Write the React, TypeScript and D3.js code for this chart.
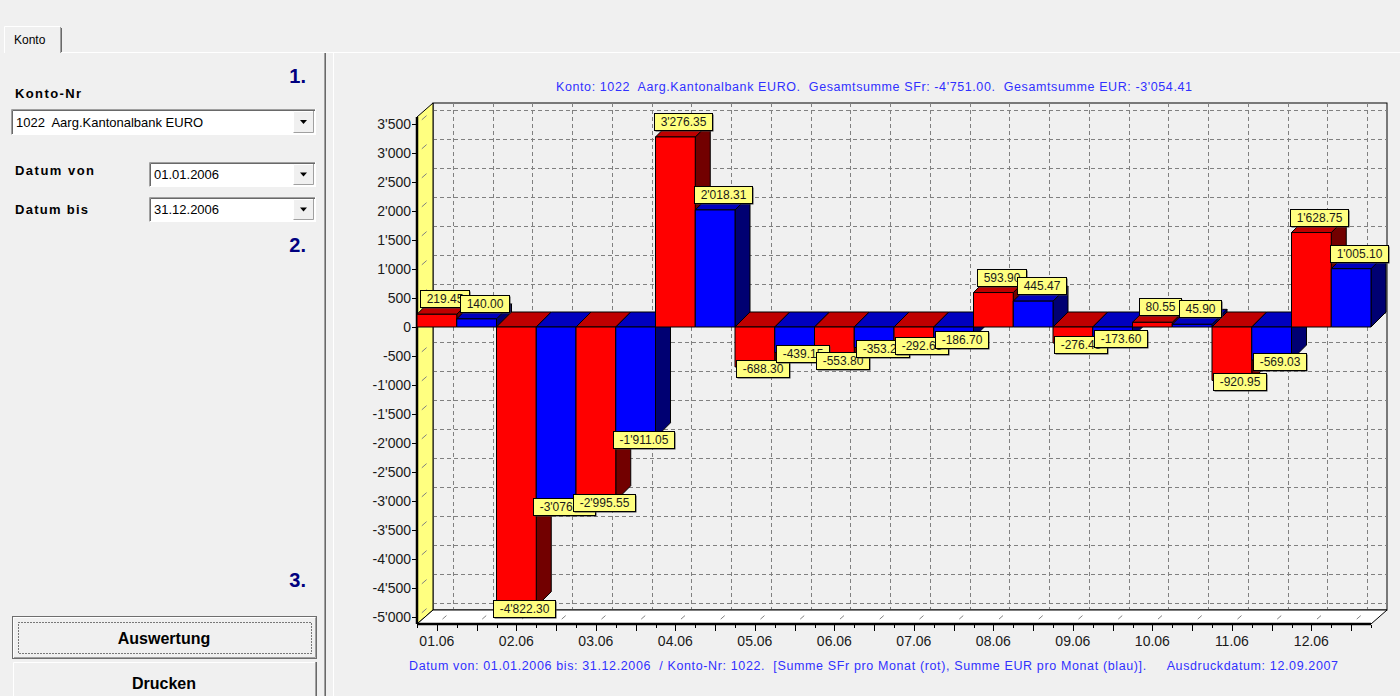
import React from 'react';
import * as d3 from 'd3';

const months = ['01.06', '02.06', '03.06', '04.06', '05.06', '06.06', '07.06', '08.06', '09.06', '10.06', '11.06', '12.06'];
const sfrValues = [219.45, -4822.3, -2995.55, 3276.35, -688.3, -553.8, -292.65, 593.9, -276.45, 80.55, -920.95, 1628.75];
const eurValues = [140.0, -3076.41, -1911.05, 2018.31, -439.15, -353.25, -186.7, 445.47, -173.6, 45.9, -569.03, 1005.1];
const yTickValues = [-5000, -4500, -4000, -3500, -3000, -2500, -2000, -1500, -1000, -500, 0, 500, 1000, 1500, 2000, 2500, 3000, 3500];

const titleText = "Konto: 1022  Aarg.Kantonalbank EURO.  Gesamtsumme SFr: -4'751.00.  Gesamtsumme EUR: -3'054.41";
const footerText = "Datum von: 01.01.2006 bis: 31.12.2006  / Konto-Nr: 1022.  [Summe SFr pro Monat (rot), Summe EUR pro Monat (blau)].     Ausdruckdatum: 12.09.2007";

const locale = d3.formatLocale({ decimal: '.', thousands: "'", grouping: [3], currency: ['', ''], minus: '-' });
const fmtTick = locale.format(',.0f');
const fmtVal = locale.format(',.2f');

const FONT = "'Liberation Sans', Arial, sans-serif";
const PRE: React.CSSProperties = { whiteSpace: 'pre' };

// layout
const X0 = 417, X1 = 1371;
const FRONT_TOP = 117, FRONT_BOTTOM = 624;
const WDX = 16, WDY = -14; // wall depth
const BDX = 15, BDY = -15; // bar depth

const x = d3.scaleBand<string>().domain(months).range([X0, X1]).paddingInner(0).paddingOuter(0);
const y = d3.scaleLinear().domain([-5000, 3500]).range([617, 124]);

let measureCtx: CanvasRenderingContext2D | null = null;
function textWidth(s: string, font: string) {
  if (!measureCtx) {
    const c = document.createElement('canvas');
    measureCtx = c.getContext('2d');
  }
  if (!measureCtx) return s.length * 6.5;
  measureCtx.font = font;
  return measureCtx.measureText(s).width;
}

const pts = (arr: number[][]) => arr.map((p) => p.join(',')).join(' ');

function Combo({ x0, y0, w, h, text }: { x0: number; y0: number; w: number; h: number; text: string }) {
  return (
    <g>
      <rect x={x0} y={y0} width={w} height={h} fill="#ffffff" />
      <path d={`M${x0 + 0.5},${y0 + h} V${y0 + 0.5} H${x0 + w}`} stroke="#a0a0a0" fill="none" />
      <path d={`M${x0 + 1.5},${y0 + h - 1} V${y0 + 1.5} H${x0 + w - 1}`} stroke="#696969" fill="none" />
      <path d={`M${x0 + 0.5},${y0 + h - 0.5} H${x0 + w - 0.5} V${y0}`} stroke="#ffffff" fill="none" />
      <text x={x0 + 5} y={y0 + h / 2} dy="0.35em" fontFamily={FONT} fontSize={13} fill="#000" style={PRE}>{text}</text>
      <rect x={x0 + w - 23} y={y0 + 2} width={21} height={h - 4} fill="#f0f0f0" />
      <path d={`M${x0 + w - 22.5},${y0 + h - 2} V${y0 + 2.5} H${x0 + w - 2}`} stroke="#ffffff" fill="none" />
      <path d={`M${x0 + w - 22.5},${y0 + h - 2.5} H${x0 + w - 2.5} V${y0 + 2}`} stroke="#a0a0a0" fill="none" />
      <path d={`M${x0 + w - 16},${y0 + h / 2 - 2} h7 l-3.5,4 z`} fill="#000" />
    </g>
  );
}

export default function App() {
  const bw = x.bandwidth();
  const halfW = bw / 2;
  const y0 = y(0);

  type Bar = { x: number; w: number; v: number; front: string; top: string; side: string };
  const bars: Bar[] = [];
  months.forEach((m, i) => {
    bars.push({ x: x(m)!, w: halfW, v: sfrValues[i], front: '#ff0000', top: '#bf0000', side: '#720000' });
    bars.push({ x: x(m)! + halfW, w: halfW, v: eurValues[i], front: '#0000ff', top: '#0000bf', side: '#000072' });
  });

  const labelPos = months.map((m) => x(m)! + bw / 4);
  const gridX: number[] = [];
  months.forEach((m) => {
    gridX.push(x(m)! + bw / 4);
    gridX.push(x(m)! + (3 * bw) / 4);
  });

  const floorTicks = d3.range(0, 49).map((j) => ({ x: X0 + (j * bw) / 4, major: j % 2 === 1 }));

  const labelFont = `12px ${FONT}`;

  return (
    <svg width={1400} height={696} style={{ position: 'absolute', left: 0, top: 0, background: '#f0f0f0' }}>
      <rect x={0} y={0} width={1400} height={696} fill="#f0f0f0" />

      {/* tab */}
      <path d="M4.5,53 V26.5 H60" stroke="#ffffff" fill="none" />
      <path d="M60.5,27 V53" stroke="#a0a0a0" fill="none" />
      <path d="M61.5,28 V52" stroke="#696969" fill="none" />
      <text x={14} y={40} dy="0.35em" fontFamily={FONT} fontSize={12} fill="#000">Konto</text>
      <path d="M62,52.5 H1400" stroke="#ffffff" />

      {/* left panel separator */}
      <path d="M324.5,53 V696" stroke="#a0a0a0" />
      <path d="M325.5,53 V696" stroke="#696969" />
      <path d="M333.5,53 V696" stroke="#ffffff" />

      {/* left panel */}
      <text x={306} y={76} textAnchor="end" dy="0.35em" fontFamily={FONT} fontSize={20} fontWeight="bold" fill="#00007f">1.</text>
      <text x={306} y={245} textAnchor="end" dy="0.35em" fontFamily={FONT} fontSize={20} fontWeight="bold" fill="#00007f">2.</text>
      <text x={306} y={580} textAnchor="end" dy="0.35em" fontFamily={FONT} fontSize={20} fontWeight="bold" fill="#00007f">3.</text>

      <text x={15} y={93} dy="0.35em" fontFamily={FONT} fontSize={13} fontWeight="bold" fill="#000" textLength={66} lengthAdjust="spacing">Konto-Nr</text>
      <Combo x0={11} y0={109} w={305} h={26} text="1022  Aarg.Kantonalbank EURO" />

      <text x={15} y={170} dy="0.35em" fontFamily={FONT} fontSize={13} fontWeight="bold" fill="#000" textLength={79} lengthAdjust="spacing" style={PRE}>Datum von</text>
      <Combo x0={149} y0={162} w={167} h={25} text="01.01.2006" />
      <text x={15} y={209} dy="0.35em" fontFamily={FONT} fontSize={13} fontWeight="bold" fill="#000" textLength={73} lengthAdjust="spacing" style={PRE}>Datum bis</text>
      <Combo x0={149} y0={197} w={167} h={25} text="31.12.2006" />

      {/* Auswertung button */}
      <rect x={12.5} y={616.5} width={304} height={42} fill="#f0f0f0" stroke="#6e6e6e" />
      <path d="M13.5,657.5 V617.5 H316" stroke="#ffffff" fill="none" />
      <path d="M14,657.5 H315.5 V617.5" stroke="#a0a0a0" fill="none" />
      <rect x={18.5} y={622.5} width={293} height={31} fill="none" stroke="#000" strokeDasharray="1 2" />
      <text x={164} y={638} dy="0.35em" textAnchor="middle" fontFamily={FONT} fontSize={16} fontWeight="bold" fill="#000">Auswertung</text>

      {/* Drucken button */}
      <rect x={13} y={662} width={304} height={40} fill="#f0f0f0" />
      <path d="M13.5,700 V662.5 H316" stroke="#ffffff" fill="none" />
      <path d="M315.5,662 V700" stroke="#a0a0a0" fill="none" />
      <path d="M316.5,662 V700" stroke="#696969" fill="none" />
      <text x={164} y={683} dy="0.35em" textAnchor="middle" fontFamily={FONT} fontSize={16} fontWeight="bold" fill="#000">Drucken</text>

      {/* chart title */}
      <text x={874} y={87} dy="0.35em" textAnchor="middle" fontFamily={FONT} fontSize={12.5} fill="#3030ff" textLength={636} lengthAdjust="spacing" style={PRE}>{titleText}</text>

      {/* back wall */}
      <rect x={X0 + WDX} y={FRONT_TOP + WDY} width={X1 - X0} height={FRONT_BOTTOM - FRONT_TOP} fill="#f0f0f0" stroke="#000" strokeWidth={1} />

      {/* grid on back wall */}
      {yTickValues.map((v) => (
        <line key={'gh' + v} x1={X0 + WDX} x2={X1 + WDX} y1={Math.round(y(v) + WDY) + 0.5} y2={Math.round(y(v) + WDY) + 0.5} stroke="#808080" strokeDasharray="4 3" />
      ))}
      {gridX.map((gx, i) => (
        <line key={'gv' + i} x1={Math.round(gx + WDX) + 0.5} x2={Math.round(gx + WDX) + 0.5} y1={FRONT_TOP + WDY} y2={FRONT_BOTTOM + WDY} stroke="#808080" strokeDasharray="4 3" />
      ))}

      {/* left wall */}
      <polygon points={pts([[X0, FRONT_TOP], [X0 + WDX, FRONT_TOP + WDY], [X0 + WDX, FRONT_BOTTOM + WDY], [X0, FRONT_BOTTOM]])} fill="#ffff80" stroke="#000" strokeWidth={1} />
      {yTickValues.map((v) => {
        const yy = y(v);
        return (
          <line key={'lw' + v} x1={X0 + WDX * 0.3} y1={yy + WDY * 0.3} x2={X0 + WDX * 0.6} y2={yy + WDY * 0.6} stroke="#808080" />
        );
      })}
      <line x1={X0} x2={X0} y1={FRONT_TOP} y2={FRONT_BOTTOM} stroke="#000" strokeWidth={2.5} />

      {/* floor */}
      <polygon points={pts([[X0, FRONT_BOTTOM], [X0 + WDX, FRONT_BOTTOM + WDY], [X1 + WDX, FRONT_BOTTOM + WDY], [X1, FRONT_BOTTOM]])} fill="#ffffff" stroke="#000" strokeWidth={1} />
      {gridX.map((gx, i) => (
        <line key={'fl' + i} x1={gx + WDX * 0.35} y1={FRONT_BOTTOM + WDY * 0.35} x2={gx + WDX * 0.6} y2={FRONT_BOTTOM + WDY * 0.6} stroke="#808080" />
      ))}
      <line x1={X0} x2={X1} y1={FRONT_BOTTOM} y2={FRONT_BOTTOM} stroke="#000" strokeWidth={2.5} />

      {/* floor ticks */}
      {floorTicks.map((t, i) => (
        <line key={'ft' + i} x1={Math.round(t.x) + 0.5} x2={Math.round(t.x) + 0.5} y1={FRONT_BOTTOM + 1} y2={FRONT_BOTTOM + (t.major ? 7 : 4)} stroke="#000" />
      ))}

      {/* y axis ticks and labels */}
      {yTickValues.map((v) => (
        <g key={'yt' + v}>
          <line x1={412} x2={417} y1={Math.round(y(v)) + 0.5} y2={Math.round(y(v)) + 0.5} stroke="#000" />
          <text x={411} y={y(v)} dy="0.35em" textAnchor="end" fontFamily={FONT} fontSize={14} fill="#1a1a1a">{fmtTick(v)}</text>
        </g>
      ))}

      {/* x axis labels */}
      {months.map((m, i) => (
        <text key={'xl' + m} x={labelPos[i]} y={641} dy="0.35em" textAnchor="middle" fontFamily={FONT} fontSize={14} fill="#1a1a1a">{m}</text>
      ))}

      {/* bars */}
      {bars.map((b, i) => {
        const yv = y(b.v);
        const yt = Math.min(yv, y0);
        const yb = Math.max(yv, y0);
        return (
          <g key={'b' + i} stroke="#000" strokeWidth={1} strokeLinejoin="round">
            <polygon points={pts([[b.x + b.w, yt], [b.x + b.w + BDX, yt + BDY], [b.x + b.w + BDX, yb + BDY], [b.x + b.w, yb]])} fill={b.side} />
            <polygon points={pts([[b.x, yt], [b.x + BDX, yt + BDY], [b.x + b.w + BDX, yt + BDY], [b.x + b.w, yt]])} fill={b.top} />
            <rect x={b.x} y={yt} width={b.w} height={Math.max(yb - yt, 0.5)} fill={b.front} />
          </g>
        );
      })}

      {/* value marks */}
      {bars.map((b, i) => {
        const label = fmtVal(b.v);
        const tw = textWidth(label, labelFont);
        const w = Math.round(tw + 12);
        const h = 17;
        const cx = b.x + b.w / 2 + 8;
        const yv = y(b.v);
        const top = b.v >= 0 ? yv - 7 - h : yv - 7;
        const bx = Math.round(cx - w / 2) + 0.5;
        const by = Math.round(top) + 0.5;
        return (
          <g key={'m' + i}>
            <rect x={bx + 1} y={by + 1} width={w} height={h} fill="#404040" />
            <rect x={bx} y={by} width={w} height={h} fill="#ffff80" stroke="#000" strokeWidth={1} />
            <text x={bx + w / 2} y={by + h / 2} dy="0.35em" textAnchor="middle" fontFamily={FONT} fontSize={12} fill="#1a1a1a">{label}</text>
          </g>
        );
      })}

      {/* footer */}
      <text x={409} y={666} dy="0.35em" fontFamily={FONT} fontSize={12.5} fill="#3030ff" textLength={929} lengthAdjust="spacing" style={PRE}>{footerText}</text>
    </svg>
  );
}
